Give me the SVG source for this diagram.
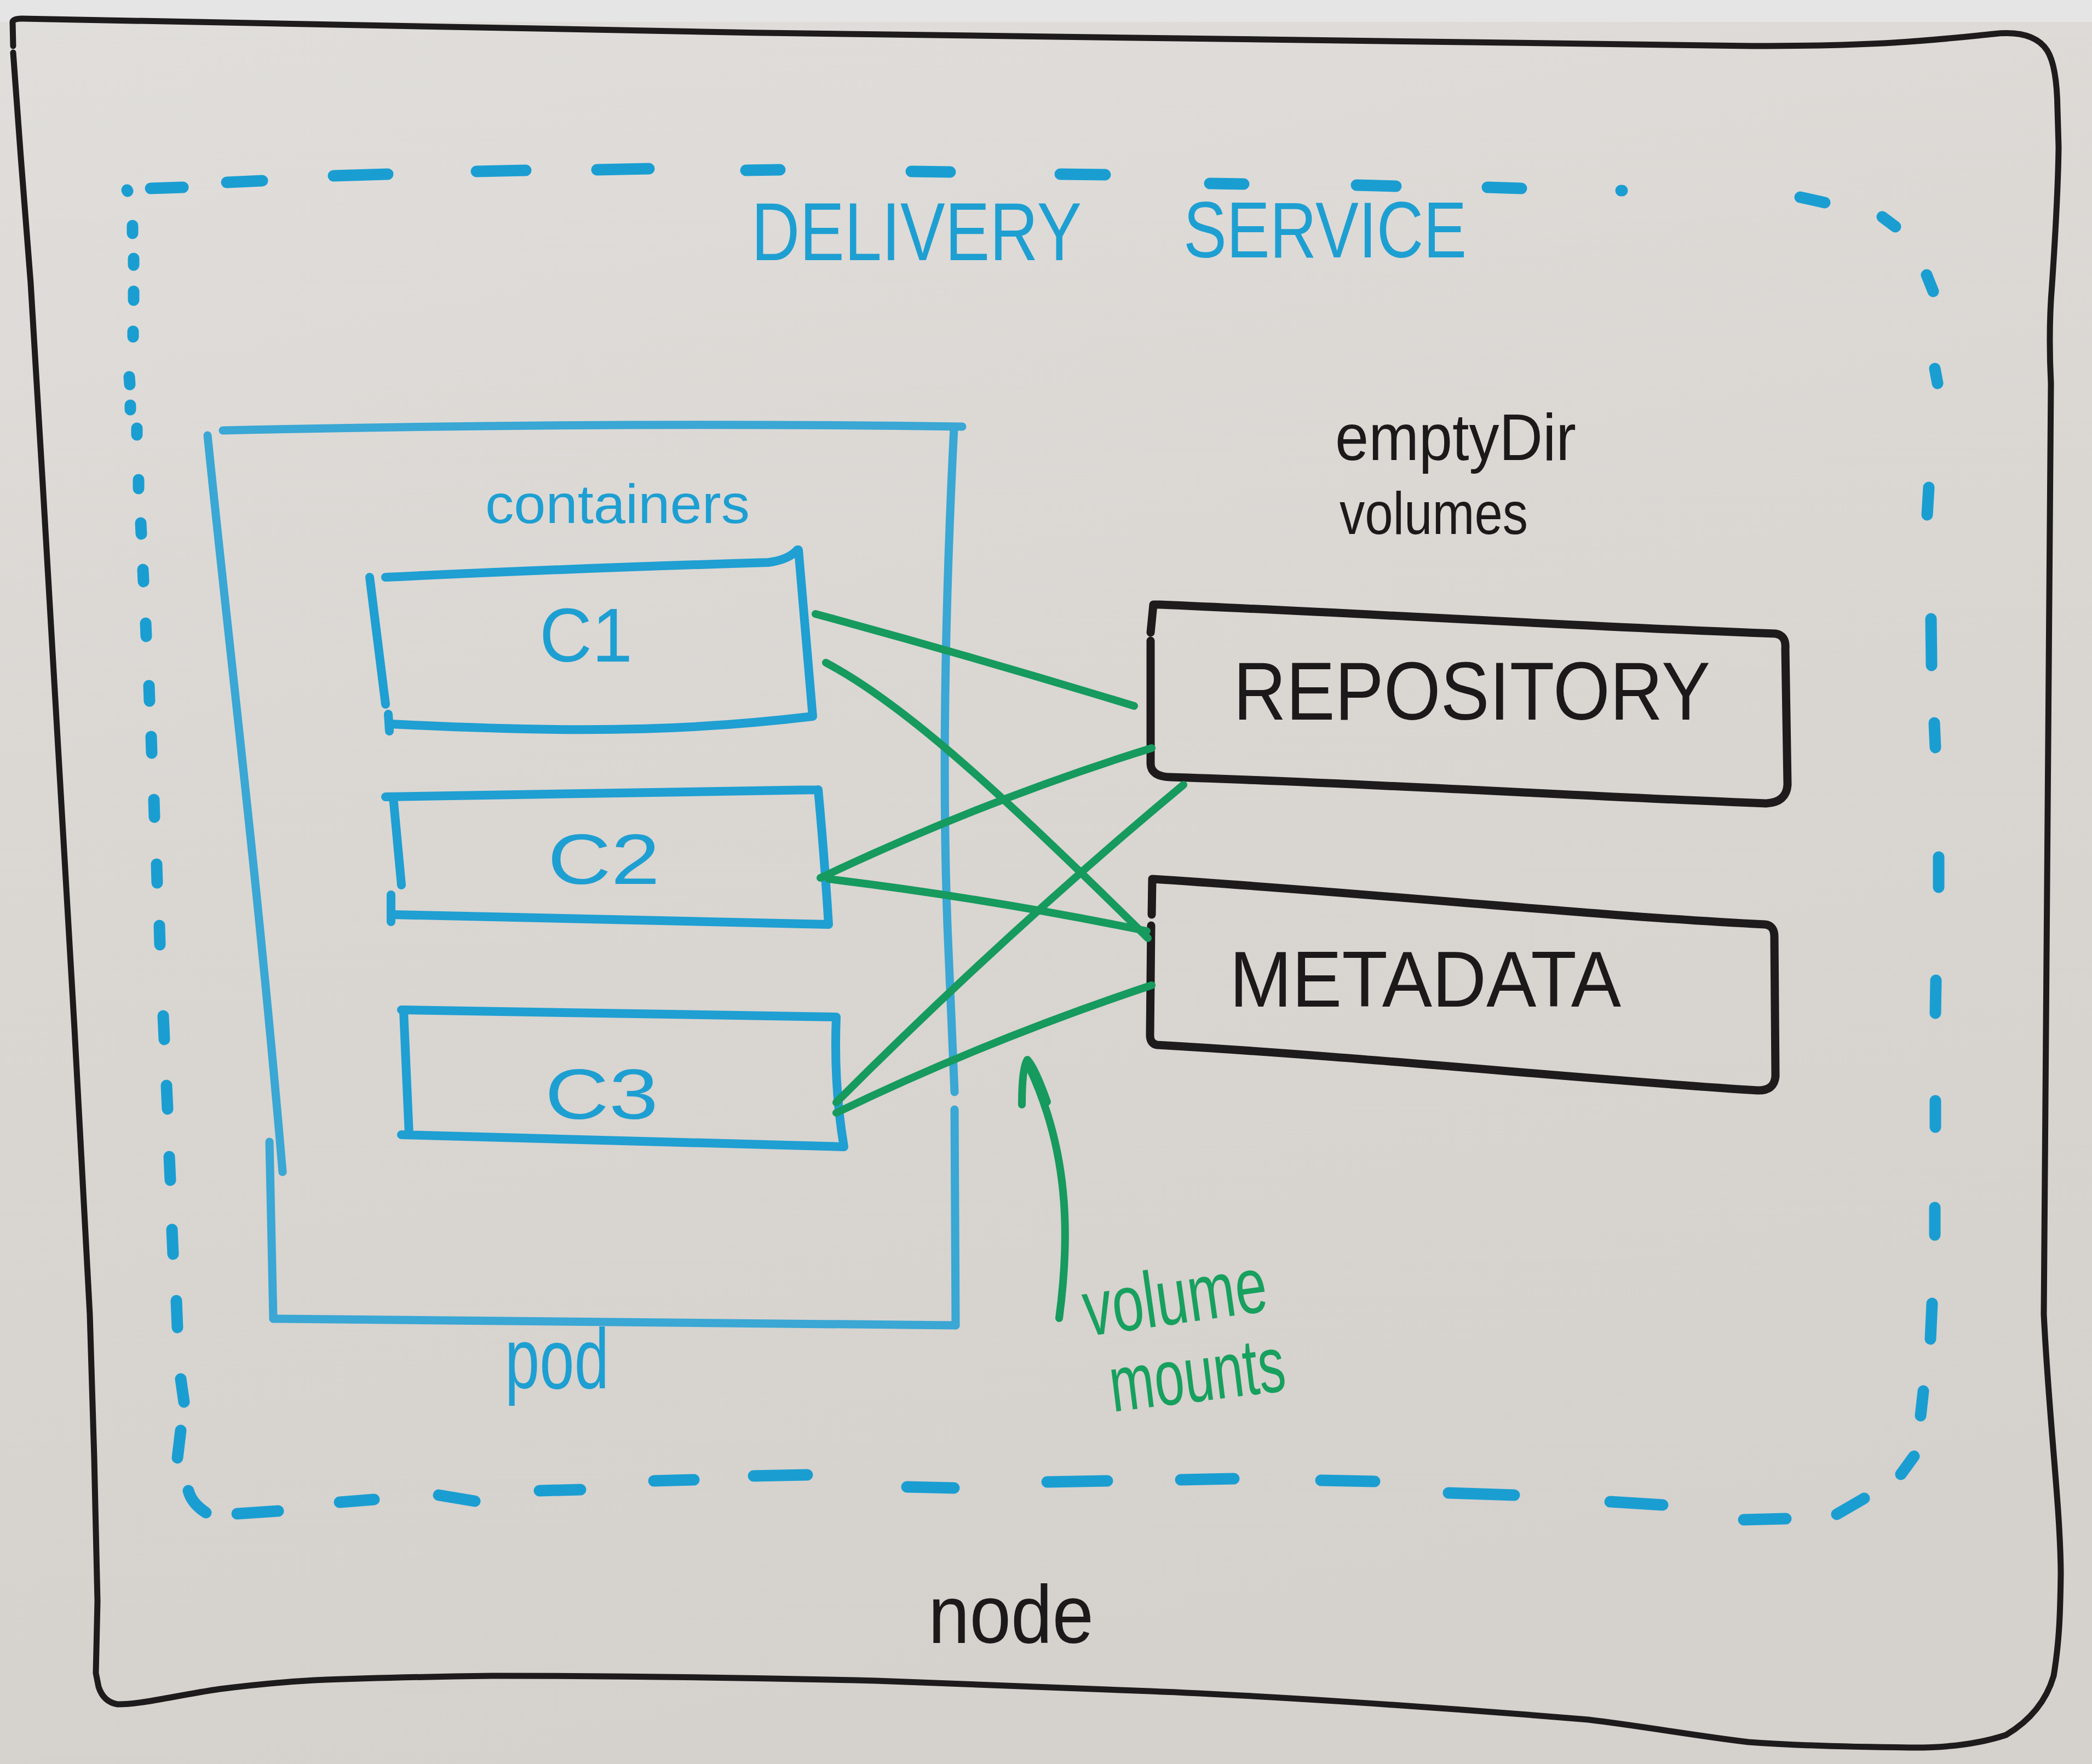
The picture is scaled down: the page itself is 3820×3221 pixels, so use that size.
<svg xmlns="http://www.w3.org/2000/svg" width="3820" height="3221" viewBox="0 0 3820 3221">
<defs>
<linearGradient id="bg" x1="0" y1="0" x2="0.25" y2="1">
<stop offset="0" stop-color="#e0dedb"/>
<stop offset="0.5" stop-color="#dad6d2"/>
<stop offset="1" stop-color="#d5d1cd"/>
</linearGradient>
<style>
.blk{fill:none;stroke:#1d1b1b;stroke-width:11;stroke-linecap:round;stroke-linejoin:round}
.box{fill:none;stroke:#1d1b1b;stroke-width:15;stroke-linecap:round;stroke-linejoin:round}
.blu{fill:none;stroke:#1f9fd2;stroke-width:16;stroke-linecap:round;stroke-linejoin:round}
.pod{fill:none;stroke:#3aa7d4;stroke-width:15;stroke-linecap:round;stroke-linejoin:round}
.dash{fill:none;stroke:#1a9ed2;stroke-width:21;stroke-linecap:round}
.grn{fill:none;stroke:#169a5e;stroke-width:14;stroke-linecap:round;stroke-linejoin:round}
.t{font-family:"Liberation Sans","DejaVu Sans",sans-serif}
.tb{fill:#1e9fd2}
.tk{fill:#1b1919}
.tg{fill:#17a05e}
</style>
</defs>
<rect x="0" y="0" width="3820" height="3221" fill="url(#bg)"/>
<rect x="0" y="0" width="3820" height="40" fill="#e6e5e5"/>

<g id="node">
<path class="blk" d="M24,84 L23,40 Q24,34 40,34 C1000,55 2500,80 3200,84 C3450,84 3540,72 3640,62 Q3713,54 3738,92 Q3756,120 3757,200 L3759,268 C3758,350 3752,446 3747,520 C3742,580 3742,640 3745,700 C3745,1300 3740,1900 3732,2400 C3742,2600 3762,2750 3763,2872 C3762,2950 3760,3000 3750,3060 Q3730,3128 3663,3168 Q3590,3192 3487,3191 C3380,3190 3290,3188 3193,3181 C3100,3170 3000,3152 2900,3140 C2600,3115 2300,3096 2100,3088 C1900,3080 1700,3072 1600,3069 C1300,3062 1100,3060 900,3060 C750,3062 650,3065 574,3068 C500,3072 450,3078 402,3084 C320,3096 260,3112 215,3112 Q189,3108 180,3080 L175,3055 L178,2924 L172,2662 L164,2400 C140,1900 100,1300 79,900 L56,517 L38,287 L24,96"/>
<text class="t tk" x="1695" y="3000" font-size="150" textLength="302" lengthAdjust="spacingAndGlyphs">node</text>
</g>

<g id="delivery-service">
<path class="dash" d="M232,347 L233,349 M242,412 L242,426 M244,472 L244,484 M244,532 L244,548 M243,605 L243,615 M236,688 L237,702 M238,740 L238,748 M250,782 L250,794 M253,876 L253,892 M257,955 L258,975 M261,1040 L262,1062 M266,1138 L267,1162 M272,1252 L273,1280 M276,1345 L277,1375 M281,1460 L282,1492 M286,1578 L287,1612 M291,1690 L292,1725 M298,1855 L300,1898 M304,1982 L306,2025 M309,2112 L311,2155 M314,2245 L316,2290 M322,2375 L324,2424 M330,2518 L336,2560 M330,2612 L324,2662 M344,2722 Q350,2745 376,2762"/>
<path class="dash" d="M275,344 L334,342 M414,333 L479,330 M609,321 L708,318 M870,313 L960,311 M1090,310 L1185,308 M1362,311 L1424,310 M1664,313 L1735,314 M1936,318 L2018,319 M2209,335 L2271,336 M2477,338 L2549,340 M2716,342 L2778,344 M2960,348 L2962,348 M3287,360 L3332,370 M3437,396 L3461,414"/>
<path class="dash" d="M3518,502 L3530,532 M3533,673 L3538,700 M3522,890 L3519,940 M3526,1130 L3527,1215 M3532,1320 L3534,1365 M3540,1565 L3540,1620 M3535,1790 L3534,1850 M3534,2010 L3534,2058 M3533,2205 L3533,2255 M3528,2380 L3525,2445 M3512,2540 L3507,2585 M3495,2659 L3471,2692"/>
<path class="dash" d="M3404,2736 L3354,2765 M3261,2773 L3184,2775 M3036,2748 L2940,2742 M2765,2730 L2645,2726 M2510,2705 L2412,2703 M2253,2700 L2156,2702 M2022,2704 L1912,2706 M1742,2717 L1656,2715 M1474,2693 L1376,2695 M1267,2702 L1194,2704 M1060,2720 L985,2722 M867,2741 L801,2730 M683,2738 L620,2743 M508,2759 L433,2764"/>
<text class="t tb" x="1372" y="475" font-size="150" textLength="603" lengthAdjust="spacingAndGlyphs">DELIVERY</text>
<text class="t tb" x="2161" y="470" font-size="145" textLength="517" lengthAdjust="spacingAndGlyphs">SERVICE</text>
</g>

<g id="pod">
<path class="pod" d="M407,786 Q1100,770 1757,779"/>
<path class="pod" d="M1742,781 Q1716,1300 1730,1690 L1743,1994 M1743,2026 L1745,2420"/>
<path class="pod" d="M499,2408 L1745,2420"/>
<path class="pod" d="M379,795 C420,1200 470,1600 516,2140 M492,2085 L499,2408"/>
<text class="t tb" x="886" y="955" font-size="100" textLength="483" lengthAdjust="spacingAndGlyphs">containers</text>
<text class="t tb" x="922" y="2535" font-size="155" textLength="190" lengthAdjust="spacingAndGlyphs">pod</text>
</g>

<g id="c1">
<path class="blu" d="M704,1054 C1000,1040 1300,1030 1403,1027 Q1440,1022 1456,1004 M1458,1004 L1484,1308 M1484,1308 C1300,1330 1100,1342 714,1322 M675,1054 L704,1286 M709,1304 L711,1335"/>
<text class="t tb" x="985" y="1208" font-size="140" textLength="170" lengthAdjust="spacingAndGlyphs">C1</text>
</g>
<g id="c2">
<path class="blu" d="M704,1455 L1494,1442 M1494,1442 Q1505,1560 1513,1688 M1513,1688 L714,1670 M718,1455 L733,1616 M714,1634 L714,1683"/>
<text class="t tb" x="1000" y="1614" font-size="130" textLength="205" lengthAdjust="spacingAndGlyphs">C2</text>
</g>
<g id="c3">
<path class="blu" d="M733,1844 L1527,1857 M1527,1857 Q1522,1980 1541,2094 M1541,2094 L733,2072 M737,1846 L747,2072"/>
<text class="t tb" x="995" y="2043" font-size="130" textLength="207" lengthAdjust="spacingAndGlyphs">C3</text>
</g>

<g id="repository">
<path class="box" d="M2101,1155 L2106,1104 L2118,1104 C2500,1120 2900,1145 3242,1157 Q3262,1160 3260,1185 L3264,1433 Q3262,1465 3225,1467 C2900,1455 2500,1430 2137,1419 Q2102,1418 2101,1395 L2101,1170"/>
<text class="t tk" x="2252" y="1314" font-size="150" textLength="871" lengthAdjust="spacingAndGlyphs">REPOSITORY</text>
</g>
<g id="metadata">
<path class="box" d="M2104,1605 C2500,1630 2900,1672 3223,1688 Q3240,1690 3240,1710 L3242,1965 Q3240,1992 3209,1991 C2900,1972 2500,1930 2113,1908 Q2100,1906 2100,1890 L2102,1690 M2104,1605 L2103,1670"/>
<text class="t tk" x="2245" y="1838" font-size="145" textLength="715" lengthAdjust="spacingAndGlyphs">METADATA</text>
</g>

<g id="emptydir-label">
<text class="t tk" x="2438" y="840" font-size="120" textLength="440" lengthAdjust="spacingAndGlyphs">emptyDir</text>
<text class="t tk" x="2446" y="975" font-size="110" textLength="344" lengthAdjust="spacingAndGlyphs">volumes</text>
</g>

<g id="connectors">
<path class="grn" d="M1489,1121 Q1780,1200 2071,1289"/>
<path class="grn" d="M1508,1210 C1640,1280 1800,1420 2096,1713"/>
<path class="grn" d="M1498,1603 Q1800,1460 2103,1366"/>
<path class="grn" d="M1513,1605 Q1800,1640 2094,1700"/>
<path class="grn" d="M1527,2013 Q1840,1700 2161,1433"/>
<path class="grn" d="M1527,2032 Q1800,1900 2103,1799"/>
<path class="grn" d="M1934,2407 C1955,2250 1950,2100 1880,1950"/>
<path class="grn" d="M1866,2017 Q1866,1950 1876,1935 Q1890,1950 1912,2012"/>
</g>

<g id="volume-mounts-label">
<text class="t tg" x="1985" y="2440" font-size="145" textLength="337" lengthAdjust="spacingAndGlyphs" transform="rotate(-8 1985 2440)">volume</text>
<text class="t tg" x="2032" y="2578" font-size="145" textLength="322" lengthAdjust="spacingAndGlyphs" transform="rotate(-7 2032 2578)">mounts</text>
</g>
</svg>
